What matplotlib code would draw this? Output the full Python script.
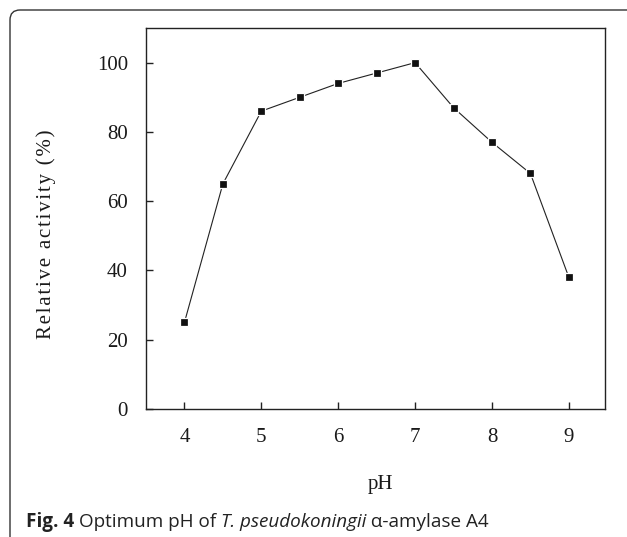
"""Optimum pH curve for T. pseudokoningii alpha-amylase A4 (Fig. 4)."""
import matplotlib

matplotlib.use("Agg")
import matplotlib.pyplot as plt
from matplotlib.patches import FancyBboxPatch

ph = [4.0, 4.5, 5.0, 5.5, 6.0, 6.5, 7.0, 7.5, 8.0, 8.5, 9.0]
activity = [25, 65, 86, 90, 94, 97, 100, 87, 77, 68, 38]
x_ticks = [4, 5, 6, 7, 8, 9]
y_ticks = [0, 20, 40, 60, 80, 100]

W, H, DPI = 627, 537, 100
SERIF = ["Liberation Serif", "DejaVu Serif"]
SANS = "Open Sans"


def spaced(s: str) -> str:
    # the original label is set with loose letter spacing
    return "\u200a".join(s)


def main() -> None:
    fig = plt.figure(figsize=(W / DPI, H / DPI), dpi=DPI)
    ax = fig.add_axes([146 / W, 1 - 409 / H, (605 - 146) / W, (409 - 28) / H])

    ax.plot(ph, activity, "-", color="#222222", lw=0.8,
            marker="s", ms=6.3, mfc="#111111", mec="white", mew=0.9)

    ax.set_xlim(3.5, 9.47)
    ax.set_ylim(0, 110)
    ax.set_xticks(x_ticks)
    ax.set_yticks(y_ticks)
    ax.tick_params(direction="in", length=5, width=1.0, color="#222222",
                   labelsize=15, labelcolor="#1a1a1a")
    ax.tick_params(axis="x", pad=14)
    ax.tick_params(axis="y", pad=13)
    for lab in ax.get_xticklabels() + ax.get_yticklabels():
        lab.set_fontfamily(SERIF)
    for sp in ax.spines.values():
        sp.set_linewidth(1.0)
        sp.set_color("#222222")

    fig.text(380 / W, 1 - 485 / H, "pH", family=SERIF, fontsize=15,
             ha="center", va="center", color="#1a1a1a")
    fig.text(46 / W, 1 - 234 / H, spaced("Relative activity (%)"), family=SERIF,
             fontsize=15, rotation=90, ha="center", va="center", color="#1a1a1a")

    # outer frame, only the top and left edges fall inside the picture
    frame = FancyBboxPatch((0.10, -0.5), 7.0, 5.27 + 0.5,
                           boxstyle="round,pad=0,rounding_size=0.1",
                           transform=fig.dpi_scale_trans, fill=False,
                           lw=1.0, ec="#333333")
    fig.add_artist(frame)

    # caption, pieced together in three styles
    renderer = fig.canvas.get_renderer()
    x = 26
    y = 1 - 527 / H
    parts = [("Fig. 4 ", "bold", "normal"),
             ("Optimum pH of ", "normal", "normal"),
             ("T. pseudokoningii", "normal", "italic"),
             (" \u03b1-amylase A4", "normal", "normal")]
    for txt, weight, style in parts:
        t = fig.text(x / W, y, txt, family=SANS, fontsize=13.6, weight=weight,
                     style=style, ha="left", va="baseline", color="#222222")
        x += t.get_window_extent(renderer).width

    fig.savefig("out.png", dpi=DPI)


if __name__ == "__main__":
    main()
